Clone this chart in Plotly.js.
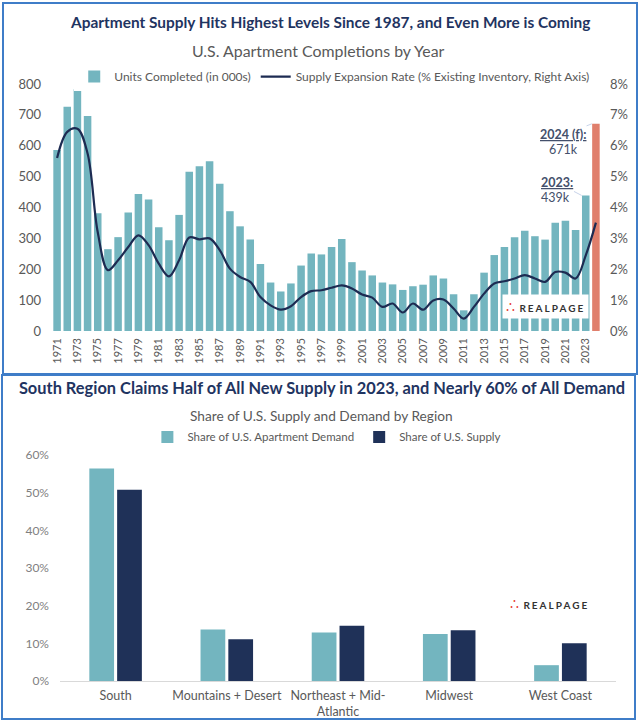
<!DOCTYPE html>
<html>
<head>
<meta charset="utf-8">
<script src="https://cdn.plot.ly/plotly-3.0.1.min.js"></script>
<style>
  html, body { margin: 0; padding: 0; background: #ffffff; }
  body { width: 640px; height: 722px; position: relative; overflow: hidden; }
  .panel { position: absolute; box-sizing: border-box; border: 2px solid #3f7dc8; background: #fff; }
  #top { left: 2px; top: 2px; width: 636px; height: 373px; }
  #bottom { left: 1px; top: 374px; width: 635px; height: 346px; }
  #c1 { width: 632px; height: 369px; }
  #c2 { width: 631px; height: 346px; position: absolute; left: 0; top: 0; }
</style>
</head>
<body>
<div id="top" class="panel"><div id="c1"></div></div>
<div id="bottom" class="panel"><div id="c2"></div></div>
<script>
// ---------- Top chart data ----------
const years = [1971,1972,1973,1974,1975,1976,1977,1978,1979,1980,
               1981,1982,1983,1984,1985,1986,1987,1988,1989,1990,
               1991,1992,1993,1994,1995,1996,1997,1998,1999,2000,
               2001,2002,2003,2004,2005,2006,2007,2008,2009,2010,
               2011,2012,2013,2014,2015,2016,2017,2018,2019,2020,
               2021,2022,2023,2024];
const unitsCompleted = [586,726,783,696,381,265,304,384,444,426,
                        336,294,376,516,534,550,477,388,339,296,
                        217,157,128,154,212,251,248,272,298,223,
                        196,180,157,151,133,145,150,180,170,119,
                        67,119,189,246,272,304,325,307,296,351,
                        357,327,439,671];
const expansionRate = [5.6,6.45,6.55,5.75,3.2,1.97,2.29,2.72,3.1,2.78,
                       2.18,1.77,2.29,3.03,2.97,3.0,2.62,2.02,1.75,1.59,
                       1.1,0.83,0.69,0.8,1.1,1.29,1.32,1.4,1.48,1.38,
                       1.18,1.08,0.78,0.89,0.6,0.89,0.69,0.99,1.02,0.73,
                       0.4,0.78,1.21,1.54,1.61,1.7,1.81,1.7,1.59,1.91,
                       1.89,1.7,2.45,3.51];
const yearTicks = [1971,1973,1975,1977,1979,1981,1983,1985,1987,1989,1991,1993,1995,
                   1997,1999,2001,2003,2005,2007,2009,2011,2013,2015,2017,2019,2021,2023];
const leftTicks = [0,100,200,300,400,500,600,700,800];
const rightTicks = [0,1,2,3,4,5,6,7,8];
const forecastYear = 2024;

// ---------- Bottom chart data ----------
const regions = ['South','Mountains + Desert','Northeast + Mid-<br>Atlantic','Midwest','West Coast'];
const demandShare = [56.4,13.7,12.9,12.5,4.2];
const supplyShare = [50.8,11.1,14.7,13.5,10.0];
const shareTicks = [0,10,20,30,40,50,60];

// ---------- Styles ----------
const TEAL = '#73b5bf';
const SALMON = '#e07f6c';
const NAVY = '#1d2b52';
const DARKBAR = '#1f3158';
const TITLE = '#1f3461';
const GRAY = '#595959';
const FONT = 'Lato, "Open Sans", sans-serif';
const REALPAGE = '<span style="color:#e8443a;font-size:14px">\u2234</span><b><span style="letter-spacing:2px"> REALPAGE</span></b>';
const pct = v => v + '%';

// ---------- Top chart ----------
const barColors = years.map(y => y === forecastYear ? SALMON : TEAL);
const n = unitsCompleted.length;

const topData = [
  {
    type: 'bar', x: years, y: unitsCompleted, name: 'Units Completed (in 000s)',
    marker: { color: barColors }
  },
  {
    type: 'scatter', mode: 'lines', x: years, y: expansionRate, yaxis: 'y2',
    name: 'Supply Expansion Rate (% Existing Inventory, Right Axis)',
    line: { color: NAVY, width: 2.2, shape: 'spline', smoothing: 1 }
  }
];

const annFont = { family: FONT, size: 12.5, color: '#44506b' };
const topLayout = {
  width: 632, height: 369,
  margin: { l: 48, r: 35, t: 80, b: 42 },
  paper_bgcolor: '#fff', plot_bgcolor: '#fff',
  font: { family: FONT, color: GRAY },
  bargap: 0.26,
  showlegend: true,
  legend: {
    orientation: 'h', x: 0.515, xanchor: 'center', y: 1.03, yanchor: 'middle',
    font: { family: FONT, size: 12, color: GRAY }, itemwidth: 30, tracegroupgap: 0,
    traceorder: 'normal'
  },
  title: {
    text: '<b>Apartment Supply Hits Highest Levels Since 1987, and Even More is Coming</b>',
    x: 0.517, xanchor: 'center', xref: 'container',
    y: 0.9485, yanchor: 'middle', yref: 'container',
    font: { family: FONT, size: 15.4, color: TITLE }
  },
  xaxis: {
    range: [years[0] - 0.5, years[n - 1] + 0.5],
    tickmode: 'array', tickvals: yearTicks, ticktext: yearTicks.map(String),
    tickangle: -90, tickfont: { family: FONT, size: 11, color: GRAY },
    showgrid: false, zeroline: false, showline: false, ticks: '', ticklabelstandoff: 4
  },
  yaxis: {
    range: [0, 800], tickmode: 'array', tickvals: leftTicks, ticktext: leftTicks.map(String),
    tickfont: { family: FONT, size: 13, color: GRAY },
    showgrid: false, zeroline: false, showline: false, ticks: '', ticklabelstandoff: 10
  },
  yaxis2: {
    range: [0, 8], overlaying: 'y', side: 'right', tickmode: 'array', tickvals: rightTicks,
    ticktext: rightTicks.map(pct), tickfont: { family: FONT, size: 13, color: GRAY },
    showgrid: false, zeroline: false, showline: false, ticks: '', ticklabelstandoff: 8
  },
  annotations: [
    { xref: 'paper', yref: 'paper', x: 0.486, y: 1.134, xanchor: 'center', yanchor: 'middle',
      text: 'U.S. Apartment Completions by Year', showarrow: false,
      font: { family: FONT, size: 15.9, color: GRAY } },
    { xref: 'x', yref: 'y', x: forecastYear - 0.4, y: unitsCompleted[n - 1],
      ax: -29, ay: 11, text: '<b>2024 (f):</b>', showarrow: true, arrowhead: 0,
      arrowwidth: 0.8, arrowcolor: '#b9c8e3', standoff: 0,
      font: Object.assign({ lineposition: 'under' }, annFont) },
    { xref: 'x', yref: 'y', x: 2020.84, y: 587, text: Math.round(unitsCompleted[n - 1]) + 'k',
      showarrow: false, font: annFont },
    { xref: 'x', yref: 'y', x: years[n - 2] - 0.4, y: unitsCompleted[n - 2],
      ax: -25, ay: -13, text: '<b>2023:</b>', showarrow: true, arrowhead: 0,
      arrowwidth: 0.8, arrowcolor: '#b9c8e3', standoff: 0,
      font: Object.assign({ lineposition: 'under' }, annFont) },
    { xref: 'x', yref: 'y', x: 2020.06, y: 433, text: unitsCompleted[n - 2] + 'k',
      showarrow: false, font: annFont },
    { xref: 'paper', yref: 'paper', x: 0.898, y: 0.099, xanchor: 'center', yanchor: 'middle',
      text: REALPAGE, showarrow: false, bgcolor: '#ffffff', borderpad: 3,
      font: { family: FONT, size: 10, color: '#333333' } }
  ]
};

Plotly.newPlot('c1', topData, topLayout, { displayModeBar: false, staticPlot: true });

// ---------- Bottom chart ----------
const bottomData = [
  { type: 'bar', x: regions, y: demandShare, name: 'Share of U.S. Apartment Demand',
    marker: { color: TEAL } },
  { type: 'bar', x: regions, y: supplyShare, name: 'Share of U.S. Supply',
    marker: { color: DARKBAR } }
];

const bottomLayout = {
  width: 631, height: 346,
  margin: { l: 57, r: 18, t: 79, b: 41 },
  paper_bgcolor: 'rgba(0,0,0,0)', plot_bgcolor: 'rgba(0,0,0,0)',
  font: { family: FONT, color: GRAY },
  barmode: 'group', bargap: 0.5, bargroupgap: 0.11,
  showlegend: true,
  legend: {
    orientation: 'h', x: 0.48, xanchor: 'center', y: 1.08, yanchor: 'middle',
    font: { family: FONT, size: 11.5, color: GRAY }, itemwidth: 30
  },
  title: {
    text: '<b>South Region Claims Half of All New Supply in 2023, and Nearly 60% of All Demand</b>',
    x: 0.5055, xanchor: 'center', xref: 'container',
    y: 0.965, yanchor: 'middle', yref: 'container',
    font: { family: FONT, size: 16.4, color: TITLE }
  },
  xaxis: {
    tickfont: { family: FONT, size: 12.5, color: GRAY },
    showgrid: false, zeroline: false, showline: true, linecolor: '#d9d9d9', linewidth: 1,
    ticks: '', ticklabelstandoff: 3
  },
  yaxis: {
    range: [0, 60], tickmode: 'array', tickvals: shareTicks, ticktext: shareTicks.map(pct),
    tickfont: { family: FONT, size: 12, color: '#7f7f7f' },
    showgrid: false, zeroline: false, showline: false, ticks: '', ticklabelstandoff: 10
  },
  annotations: [
    { xref: 'paper', yref: 'paper', x: 0.471, y: 1.175, xanchor: 'center', yanchor: 'middle',
      text: 'Share of U.S. Supply and Demand by Region', showarrow: false,
      font: { family: FONT, size: 13.7, color: GRAY } },
    { xref: 'paper', yref: 'paper', x: 0.881, y: 0.343, xanchor: 'center', yanchor: 'middle',
      text: REALPAGE, showarrow: false,
      font: { family: FONT, size: 10, color: '#333333' } }
  ]
};

Plotly.newPlot('c2', bottomData, bottomLayout, { displayModeBar: false, staticPlot: true });
</script>
</body>
</html>
